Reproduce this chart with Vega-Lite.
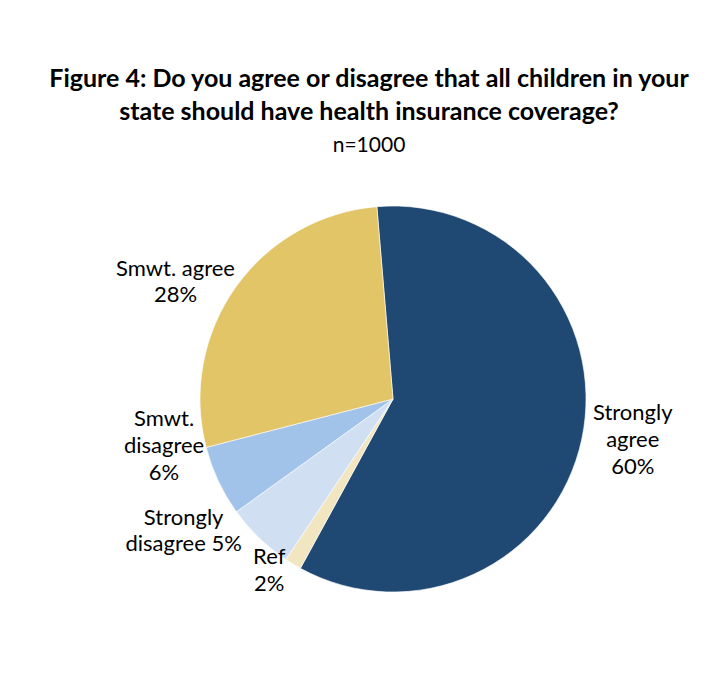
{
  "$schema": "https://vega.github.io/schema/vega-lite/v6.json",
  "autosize": {"type": "fit", "contains": "padding"},
  "width": 725,
  "height": 673,
  "padding": {"left": 61, "top": 67, "right": 0, "bottom": 0},
  "background": "white",
  "config": {"view": {"stroke": null}},
  "title": {
    "text": ["Figure 4: Do you agree or disagree that all children in your", "state should have health insurance coverage?"],
    "subtitle": "n=1000",
    "anchor": "middle",
    "dx": -24,
    "offset": -31,
    "font": "Lato",
    "fontSize": 25,
    "fontWeight": "bold",
    "color": "#000000",
    "lineHeight": 33,
    "subtitleFont": "Lato",
    "subtitleFontSize": 21,
    "subtitleColor": "#000000",
    "subtitlePadding": 10
  },
  "data": {
    "values": [
      {"category": "Strongly agree", "share": 59.3, "rank": 1, "label": "Strongly\nagree\n60%"},
      {"category": "Ref", "share": 1.4, "rank": 2, "label": "Ref\n2%"},
      {"category": "Strongly disagree", "share": 5.7, "rank": 3, "label": "Strongly\ndisagree 5%"},
      {"category": "Smwt. disagree", "share": 5.9, "rank": 4, "label": "Smwt.\ndisagree\n6%"},
      {"category": "Smwt. agree", "share": 27.7, "rank": 5, "label": "Smwt. agree\n28%"}
    ]
  },
  "encoding": {
    "theta": {"field": "share", "type": "quantitative", "stack": true, "scale": {"range": [-0.0838, 6.1994]}},
    "order": {"field": "rank", "type": "quantitative"}
  },
  "layer": [
    {
      "mark": {"type": "arc", "outerRadius": 193, "stroke": "white", "strokeWidth": 0.6},
      "encoding": {
        "color": {
          "field": "category",
          "type": "nominal",
          "legend": null,
          "scale": {
            "domain": ["Strongly agree", "Ref", "Strongly disagree", "Smwt. disagree", "Smwt. agree"],
            "range": ["#1F4972", "#F2E6C1", "#D0E0F2", "#A2C3E9", "#E2C567"]
          }
        }
      }
    },
    {
      "mark": {"type": "text", "radius": 243, "dx": 2, "dy": -36, "font": "Lato", "fontSize": 22, "lineHeight": 27, "lineBreak": "\n", "align": "center", "baseline": "middle", "color": "#000000"},
      "encoding": {"text": {"condition": {"test": "datum.category === 'Strongly agree'", "field": "label"}, "value": ""}}
    },
    {
      "mark": {"type": "text", "radius": 247, "dx": -16, "dy": 13, "font": "Lato", "fontSize": 22, "lineHeight": 26, "lineBreak": "\n", "align": "center", "baseline": "middle", "color": "#000000"},
      "encoding": {"text": {"condition": {"test": "datum.category === 'Smwt. agree'", "field": "label"}, "value": ""}}
    },
    {
      "mark": {"type": "text", "radius": 222, "dx": -28, "dy": -74, "font": "Lato", "fontSize": 22, "lineHeight": 27, "lineBreak": "\n", "align": "center", "baseline": "middle", "color": "#000000"},
      "encoding": {"text": {"condition": {"test": "datum.category === 'Smwt. disagree'", "field": "label"}, "value": ""}}
    },
    {
      "mark": {"type": "text", "radius": 241, "dx": -42, "dy": -54, "font": "Lato", "fontSize": 22, "lineHeight": 26, "lineBreak": "\n", "align": "center", "baseline": "middle", "color": "#000000"},
      "encoding": {"text": {"condition": {"test": "datum.category === 'Strongly disagree'", "field": "label"}, "value": ""}}
    },
    {
      "mark": {"type": "text", "radius": 208, "dx": -16, "dy": -20, "font": "Lato", "fontSize": 22, "lineHeight": 27, "lineBreak": "\n", "align": "center", "baseline": "middle", "color": "#000000"},
      "encoding": {"text": {"condition": {"test": "datum.category === 'Ref'", "field": "label"}, "value": ""}}
    }
  ]
}
